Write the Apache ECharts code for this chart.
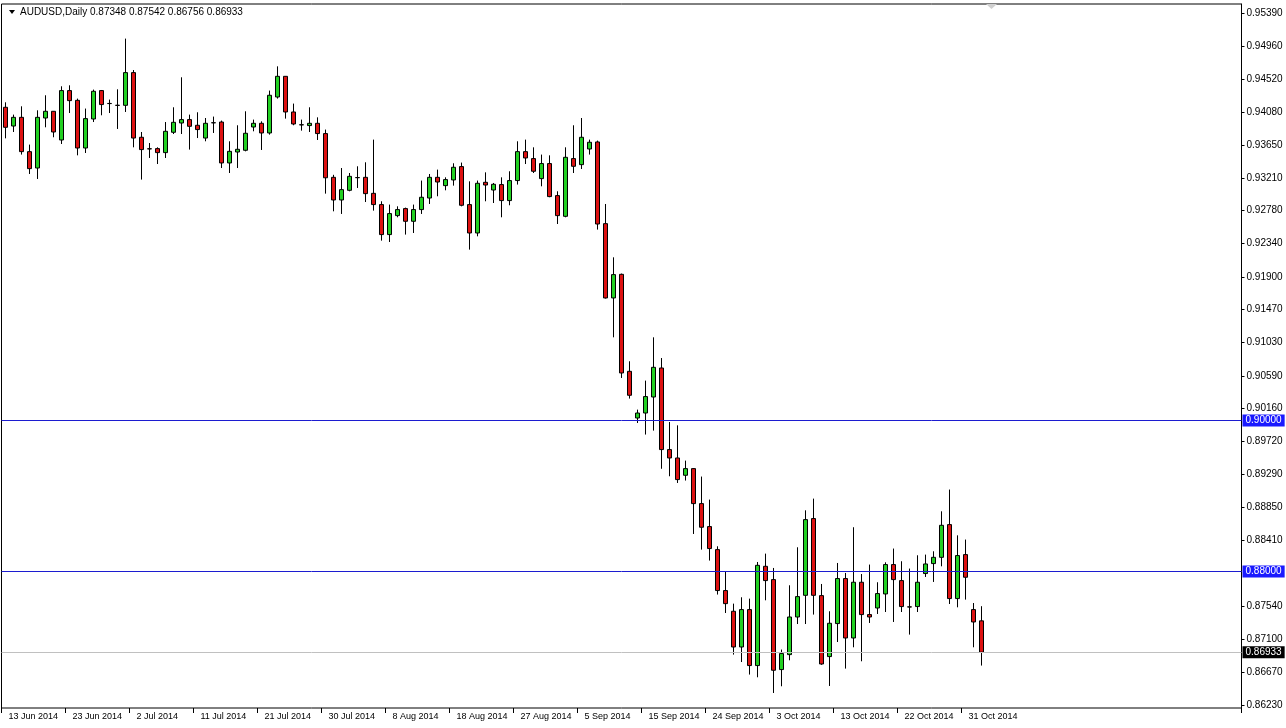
<!DOCTYPE html>
<html>
<head>
<meta charset="utf-8">
<script src="https://cdn.jsdelivr.net/npm/echarts@6/dist/echarts.min.js"></script>
<style>
html,body{margin:0;padding:0;background:#fff;}
#c{width:1286px;height:728px;}
</style>
</head>
<body>
<div id="c"></div>
<script>
const symbolName = 'AUDUSD,Daily';
const dates = [
'13 Jun 2014',
'15 Jun 2014','16 Jun 2014','17 Jun 2014','18 Jun 2014','19 Jun 2014','20 Jun 2014',
'22 Jun 2014','23 Jun 2014','24 Jun 2014','25 Jun 2014','26 Jun 2014','27 Jun 2014',
'29 Jun 2014','30 Jun 2014','1 Jul 2014','2 Jul 2014','3 Jul 2014','4 Jul 2014',
'6 Jul 2014','7 Jul 2014','8 Jul 2014','9 Jul 2014','10 Jul 2014','11 Jul 2014',
'13 Jul 2014','14 Jul 2014','15 Jul 2014','16 Jul 2014','17 Jul 2014','18 Jul 2014',
'20 Jul 2014','21 Jul 2014','22 Jul 2014','23 Jul 2014','24 Jul 2014','25 Jul 2014',
'27 Jul 2014','28 Jul 2014','29 Jul 2014','30 Jul 2014','31 Jul 2014','1 Aug 2014',
'3 Aug 2014','4 Aug 2014','5 Aug 2014','6 Aug 2014','7 Aug 2014','8 Aug 2014',
'10 Aug 2014','11 Aug 2014','12 Aug 2014','13 Aug 2014','14 Aug 2014','15 Aug 2014',
'17 Aug 2014','18 Aug 2014','19 Aug 2014','20 Aug 2014','21 Aug 2014','22 Aug 2014',
'24 Aug 2014','25 Aug 2014','26 Aug 2014','27 Aug 2014','28 Aug 2014','29 Aug 2014',
'31 Aug 2014','1 Sep 2014','2 Sep 2014','3 Sep 2014','4 Sep 2014','5 Sep 2014',
'7 Sep 2014','8 Sep 2014','9 Sep 2014','10 Sep 2014','11 Sep 2014','12 Sep 2014',
'14 Sep 2014','15 Sep 2014','16 Sep 2014','17 Sep 2014','18 Sep 2014','19 Sep 2014',
'21 Sep 2014','22 Sep 2014','23 Sep 2014','24 Sep 2014','25 Sep 2014','26 Sep 2014',
'28 Sep 2014','29 Sep 2014','30 Sep 2014','1 Oct 2014','2 Oct 2014','3 Oct 2014',
'5 Oct 2014','6 Oct 2014','7 Oct 2014','8 Oct 2014','9 Oct 2014','10 Oct 2014',
'12 Oct 2014','13 Oct 2014','14 Oct 2014','15 Oct 2014','16 Oct 2014','17 Oct 2014',
'19 Oct 2014','20 Oct 2014','21 Oct 2014','22 Oct 2014','23 Oct 2014','24 Oct 2014',
'26 Oct 2014','27 Oct 2014','28 Oct 2014','29 Oct 2014','30 Oct 2014','31 Oct 2014',
'2 Nov 2014','3 Nov 2014'
];
const openP = [
0.94146,0.93898,0.94013,0.93559,0.93342,0.94004,0.94093,0.93713,0.94367,0.94238,
0.93607,0.93991,0.94367,0.94197,0.94173,0.94172,0.94605,0.93749,0.93597,0.93599,
0.93546,0.93815,0.93938,0.93983,0.93908,0.93739,0.93942,0.93951,0.93409,0.93554,
0.93577,0.93885,0.93934,0.93806,0.94282,0.94556,0.94084,0.93915,0.93904,0.93934,
0.93798,0.93219,0.92919,0.93047,0.93216,0.93219,0.93007,0.92858,0.92461,0.92712,
0.92805,0.92637,0.92792,0.92945,0.93219,0.93109,0.93184,0.93361,0.92858,0.92482,
0.93153,0.93051,0.93123,0.92911,0.93176,0.93559,0.93467,0.93202,0.93401,0.92977,
0.92703,0.93467,0.93387,0.93594,0.93687,0.92606,0.91622,0.91935,0.90651,0.90033,
0.90099,0.90311,0.90695,0.89615,0.89504,0.89275,0.89363,0.88900,0.88596,0.88291,
0.87749,0.87475,0.87002,0.87497,0.86756,0.88070,0.87894,0.86703,0.86901,0.87399,
0.87686,0.88702,0.87682,0.86875,0.87312,0.87908,0.87121,0.87859,0.87431,0.87518,
0.87704,0.88093,0.87881,0.87533,0.87537,0.87974,0.88106,0.88189,0.88622,0.87643,
0.88225,0.87497,0.87348
];
const highP = [
0.94212,0.94049,0.94159,0.93652,0.94106,0.94305,0.94097,0.94424,0.94437,0.94261,
0.94129,0.94380,0.94375,0.94248,0.94384,0.95055,0.94639,0.93819,0.93673,0.93616,
0.93951,0.94146,0.94543,0.94049,0.94080,0.94004,0.94023,0.93970,0.93696,0.93908,
0.94093,0.93983,0.93960,0.94367,0.94688,0.94560,0.94195,0.93983,0.94146,0.94013,
0.93851,0.93252,0.93342,0.93276,0.93365,0.93418,0.93718,0.92902,0.92858,0.92835,
0.92818,0.92858,0.93176,0.93263,0.93321,0.93219,0.93405,0.93414,0.93166,0.93176,
0.93285,0.93144,0.93219,0.93299,0.93696,0.93718,0.93616,0.93520,0.93510,0.93034,
0.93616,0.93908,0.94004,0.93718,0.93705,0.92866,0.92160,0.91945,0.90784,0.90144,
0.90528,0.91101,0.90827,0.89980,0.89936,0.89469,0.89371,0.89258,0.88953,0.88335,
0.88004,0.87576,0.87660,0.87642,0.88127,0.88238,0.88048,0.86968,0.87819,0.88322,
0.88811,0.88966,0.87836,0.87475,0.88114,0.87982,0.88587,0.87968,0.88093,0.87859,
0.88123,0.88305,0.88137,0.88040,0.88216,0.88225,0.88269,0.88798,0.89086,0.88480,
0.88424,0.87584,0.87542
];
const lowP = [
0.93735,0.93819,0.93520,0.93263,0.93197,0.93881,0.93749,0.93660,0.94070,0.93510,
0.93541,0.93951,0.94040,0.94070,0.93859,0.94084,0.93616,0.93189,0.93475,0.93395,
0.93475,0.93792,0.93792,0.93586,0.93739,0.93696,0.93806,0.93342,0.93276,0.93342,
0.93563,0.93828,0.93581,0.93784,0.94261,0.93996,0.93908,0.93837,0.93819,0.93713,
0.93003,0.92769,0.92734,0.93034,0.93078,0.92892,0.92778,0.92381,0.92363,0.92690,
0.92461,0.92482,0.92734,0.92866,0.92968,0.93047,0.93109,0.92835,0.92262,0.92438,
0.92902,0.92879,0.92690,0.92849,0.93123,0.93395,0.93276,0.93100,0.92955,0.92601,
0.92690,0.93276,0.93329,0.93520,0.92527,0.91614,0.91101,0.90563,0.90290,0.89967,
0.89814,0.89866,0.89361,0.89262,0.89173,0.89205,0.88498,0.88291,0.88146,0.87696,
0.87452,0.86901,0.86803,0.86637,0.86601,0.87620,0.86393,0.86482,0.86826,0.87306,
0.87306,0.87431,0.86766,0.86486,0.87068,0.86716,0.86998,0.86813,0.87320,0.87439,
0.87465,0.87333,0.87465,0.87166,0.87465,0.87929,0.87863,0.88070,0.87571,0.87527,
0.87629,0.86998,0.86756
];
const closeP = [
0.93881,0.94013,0.93559,0.93334,0.94013,0.94093,0.93819,0.94367,0.94234,0.93607,
0.93996,0.94358,0.94182,0.94195,0.94171,0.94605,0.93739,0.93586,0.93595,0.93546,
0.93828,0.93947,0.93983,0.93894,0.93851,0.93934,0.93940,0.93409,0.93563,0.93590,
0.93802,0.93934,0.93806,0.94305,0.94556,0.94084,0.93925,0.93913,0.93934,0.93798,
0.93213,0.92919,0.93056,0.93232,0.93214,0.93003,0.92858,0.92461,0.92739,0.92792,
0.92637,0.92792,0.92955,0.93219,0.93157,0.93189,0.93352,0.92849,0.92482,0.93140,
0.93117,0.93127,0.92911,0.93176,0.93559,0.93475,0.93299,0.93401,0.92964,0.92712,
0.93484,0.93365,0.93749,0.93683,0.92601,0.91622,0.91931,0.90629,0.90334,0.90099,
0.90317,0.90704,0.89615,0.89504,0.89218,0.89363,0.88900,0.88587,0.88305,0.87749,
0.87576,0.87002,0.87497,0.86756,0.88083,0.87881,0.86694,0.86915,0.87399,0.87669,
0.88688,0.87686,0.86777,0.87316,0.87908,0.87121,0.87859,0.87431,0.87399,0.87709,
0.88093,0.87894,0.87537,0.87531,0.87859,0.88101,0.88189,0.88613,0.87643,0.88212,
0.87925,0.87333,0.86933
];
const priceTicks = [0.95390,0.94960,0.94520,0.94080,0.93650,0.93210,0.92780,0.92340,0.91900,0.91470,
0.91030,0.90590,0.90160,0.89720,0.89290,0.88850,0.88410,0.87540,0.87100,0.86670,0.86230];
const levelLines = [0.90000, 0.88000];
const lastIdx = closeP.length - 1;
const currentPrice = closeP[lastIdx];

const totalSlots = 155;
const cats = [];
for (let i = 0; i < totalSlots; i++) cats.push(i < dates.length ? dates[i] : '');
const candles = openP.map((o, i) => [o, closeP[i], lowP[i], highP[i]]);

const FONT = 'Liberation Sans';
const lvlColor = '#1c1cd0';
const mkLabel = (bg) => ({
  show: true, position: 'end', distance: 1,
  formatter: p => Number(p.value).toFixed(5),
  color: '#fff', backgroundColor: bg, fontFamily: FONT, fontSize: 10,
  padding: [1, 3, 1, 3]
});
const hLine = (value, color, boxColor) => ({
  type: 'line', data: [], silent: true, z: 10,
  markLine: {
    silent: true, symbol: ['none', 'none'], animation: false, precision: 5, z: 10,
    lineStyle: { color: color, width: 1, type: 'solid', opacity: 1 },
    label: mkLabel(boxColor),
    data: [{ yAxis: value }]
  }
});

const chart = echarts.init(document.getElementById('c'));
chart.setOption({
  animation: false,
  backgroundColor: '#fff',
  grid: { left: 1.5, right: 44.5, top: 4, bottom: 20, show: true, borderColor: '#000', borderWidth: 1, backgroundColor: 'transparent' },
  xAxis: {
    type: 'category', data: cats, boundaryGap: true,
    axisLine: { show: false, onZero: false },
    axisTick: { show: true, length: 5, lineStyle: { color: '#000' },
      interval: (idx, val) => val !== '' && idx % 8 === 0 },
    axisLabel: { show: true, color: '#000', fontFamily: FONT, fontSize: 9, align: 'left', margin: 4,
      padding: [0, 0, 0, 3],
      interval: (idx, val) => val !== '' && idx % 8 === 0 },
    splitLine: { show: false }
  },
  yAxis: {
    type: 'value', position: 'right', min: 0.861944, max: 0.955132, scale: true,
    axisLine: { show: true, onZero: false, lineStyle: { color: '#000', width: 1 } },
    axisTick: { show: true, length: 3, customValues: priceTicks, lineStyle: { color: '#000' } },
    axisLabel: { show: true, customValues: priceTicks, formatter: v => v.toFixed(5),
      color: '#000', fontFamily: FONT, fontSize: 10, margin: 5 },
    splitLine: { show: false }
  },
  graphic: [
    { type: 'polygon', shape: { points: [[9, 10], [15, 10], [12, 14]] }, style: { fill: '#000' }, silent: true },
    { type: 'text', left: 20, top: 7, silent: true,
      style: { text: symbolName + ' ' + [openP[lastIdx], highP[lastIdx], lowP[lastIdx], closeP[lastIdx]].map(v => v.toFixed(5)).join(' '),
        fill: '#000', font: '10px "Liberation Sans"' } },
    { type: 'polygon', shape: { points: [[986, 4], [997, 4], [991.5, 9]] }, style: { fill: '#d0d0d0' }, silent: true }
  ],
  series: [
    {
      type: 'candlestick',
      data: candles,
      barWidth: 5, z: 2,
      itemStyle: {
        color: '#22d022', color0: '#dd1111',
        borderColor: '#000', borderColor0: '#000', borderColorDoji: '#000', borderWidth: 1
      }
    },
    hLine(currentPrice, '#c0c0c0', '#000'),
    hLine(levelLines[1], lvlColor, '#1a1aff'),
    hLine(levelLines[0], lvlColor, '#1a1aff')
  ]
});
</script>
</body>
</html>
